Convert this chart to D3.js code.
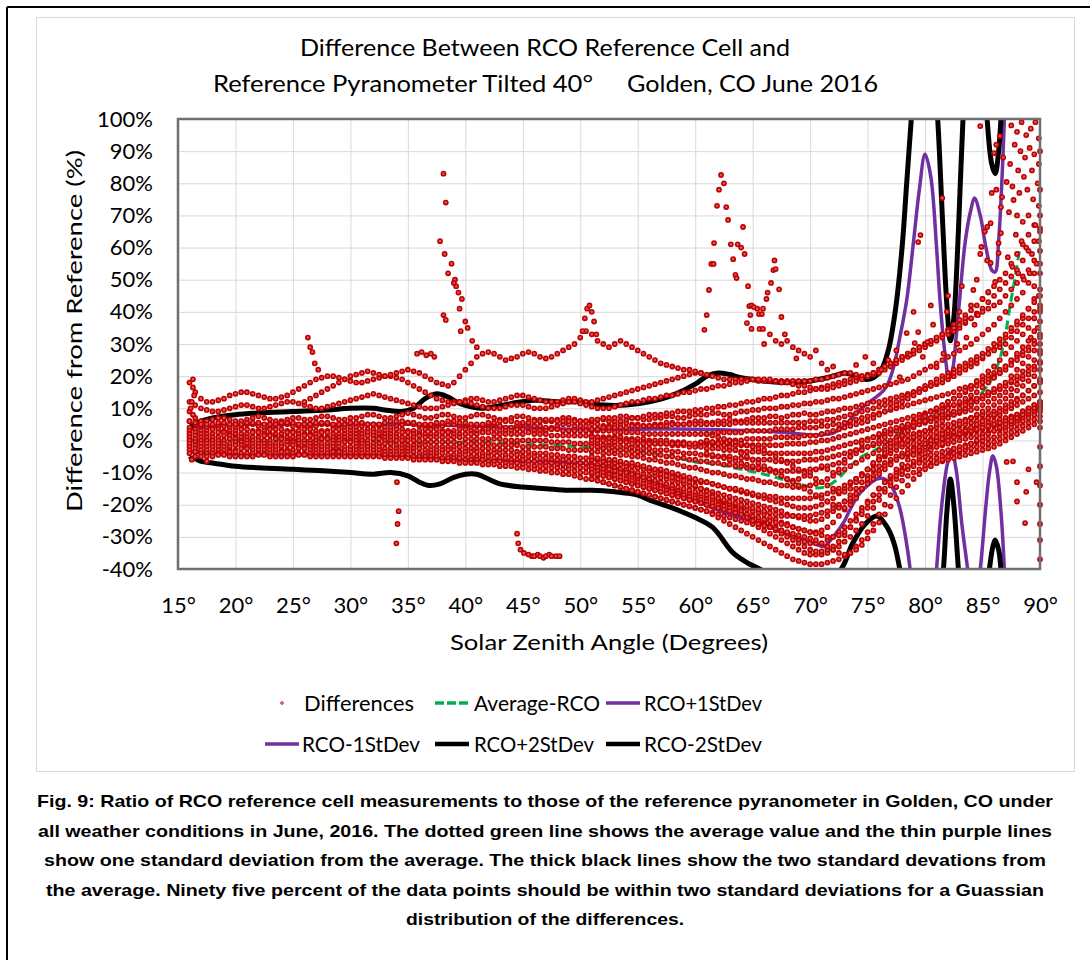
<!DOCTYPE html>
<html lang="en">
<head>
<meta charset="UTF-8">
<title>RCO Reference Cell vs Reference Pyranometer</title>
<style>
  html, body { margin: 0; padding: 0; background: #fff; }
  svg { display: block; font-family: Lato, "Open Sans", sans-serif; }
  .grid line { stroke: #d9d9d9; stroke-width: 1; }
  .grid .domain { display: none; }
  .ticks .domain { display: none; }
  .ticks text { fill: #000; font-size: 22px; font-family: Lato, sans-serif; }
</style>
</head>
<body>
<svg id="chart" width="1090" height="960"></svg>
<script src="https://cdn.jsdelivr.net/npm/d3@7/dist/d3.min.js"></script>
<script>
// ---- axis ticks ----
var xTicks = [15, 20, 25, 30, 35, 40, 45, 50, 55, 60, 65, 70, 75, 80, 85, 90];
var yTicks = [-40, -30, -20, -10, 0, 10, 20, 30, 40, 50, 60, 70, 80, 90, 100];

// ---- zenith grid of the daily traces (deg), 15 rows of 10 ----
var zenith = [
  16,16.5,17,17.5,18,18.5,19,19.5,20,20.5,
  21,21.5,22,22.5,23,23.5,24,24.5,25,25.5,
  26,26.5,27,27.5,28,28.5,29,29.5,30,30.5,
  31,31.5,32,32.5,33,33.5,34,34.5,35,35.5,
  36,36.5,37,37.5,38,38.5,39,39.5,40,40.5,
  41,41.5,42,42.5,43,43.5,44,44.5,45,45.5,
  46,46.5,47,47.5,48,48.5,49,49.5,50,50.5,
  51,51.5,52,52.5,53,53.5,54,54.5,55,55.5,
  56,56.5,57,57.5,58,58.5,59,59.5,60,60.5,
  61,61.5,62,62.5,63,63.5,64,64.5,65,65.5,
  66,66.5,67,67.5,68,68.5,69,69.5,70,70.5,
  71,71.5,72,72.5,73,73.5,74,74.5,75,75.5,
  76,76.5,77,77.5,78,78.5,79,79.5,80,80.5,
  81,81.5,82,82.5,83,83.5,84,84.5,85,85.5,
  86,86.5,87,87.5,88,88.5,89,89.5,90
];

// ---- daily difference traces (%) read along the zenith grid ----
var traceC4 = [
  6,5,4.5,4,4,4.5,4.5,4,4,4.5,
  5,5,4.5,4,4,4.5,5,5,4.5,4.5,
  4,4,4.5,5,5,4.5,4.5,4,4,4,
  4.5,5,5,4.5,4,4,4.5,5,5.5,5,
  4.5,4.5,4,4,4.5,5,5,4.5,4,4,
  4.5,4.5,5,5,4.5,4,4,4.5,5,5,
  4.5,4.5,4,4,4.5,5,5,4.5,4.5,4.5,
  5,5,4.5,4.5,5,5,5.5,5,5,4.5,
  4.5,5,5,5.5,5.5,5,5,5.5,6,6,
  5.5,5.5,6,6,6.5,6,6,6.5,7,7,
  7,7.5,7.5,7,7.5,8,8,8.5,8,8,
  8.5,9,9,9.5,10,10,10.5,11,11.5,12,
  12,12.5,13,13.5,14,14.5,15,15.5,16,17,
  17.5,18,19,20,21,22,23,24,25.5,27,
  28.5,30,32,34,36,38,41,44,47
];
var traceC3 = [
  4,3.5,3,3,3.5,3.5,3,3,3,3.5,
  3.5,3,3,3,3.5,3.5,3.5,3,3,3,
  3.5,3.5,3,3,3,3.5,3.5,3,3,3,
  3,3.5,3.5,3,3,3,3.5,3.5,3,3,
  3,3.5,3.5,3.5,3,3,3,3.5,3.5,3,
  3,3,3.5,3.5,3,3,3,3.5,3.5,3,
  3,3,3,3.5,3.5,3,3,3,3,3,
  3,3,3,3,2.5,2.5,2.5,2.5,2.5,2,
  2,2,2,2,2,2,2,2,2,2,
  2,2,2.5,2.5,2.5,2.5,2.5,3,3,3,
  3,3,3.5,3.5,3.5,3.5,4,4,4,4,
  4.5,4.5,5,5,5.5,6,6.5,7,7.5,8,
  8.5,9,9.5,10,10.5,11,11.5,12,12.5,13,
  13.5,14,14.5,15,16,16.5,17,18,19,20,
  21,22,23,24.5,26,27.5,29,31,33
];
var traceC2 = [
  3,2.5,2,2,2,2.5,2.5,2,2,2,
  2,2.5,2.5,2,2,2,2,2.5,2.5,2,
  2,2,2,2.5,2.5,2,2,2,2,2,
  2,2.5,2.5,2,2,2,2,2.5,2.5,2,
  2,2,2,2,2.5,2.5,2,2,2,2,
  2,2.5,2.5,2,2,2,2,2,2,2.5,
  2,2,2,1.5,1.5,1.5,1.5,1.5,1.5,1.5,
  1.5,1,1,1,1,1,0.5,0.5,0.5,0.5,
  0,0,0,0,-0.5,-0.5,-0.5,-1,-1,-1,
  -1,-1,-1,-1.5,-1.5,-1.5,-1.5,-1.5,-1.5,-1.5,
  -1.5,-1.5,-1.5,-1.5,-1,-1,-1,-1,-0.5,-0.5,
  0,0,0.5,1,1.5,2,2.5,3,3.5,4,
  4.5,5,5.5,6,6.5,7,7.5,8,8.5,9,
  9.5,10,10.5,11,11.5,12,12.5,13,13.5,14.5,
  15,16,17,18,19,20,21.5,23,24.5
];
var traceC1 = [
  2,1.5,1,1,1,1,1.5,1.5,1,1,
  1,1,1,1.5,1.5,1,1,1,1,1,
  1.5,1.5,1,1,1,1,1,1,1,1,
  1,1.5,1.5,1,1,1,1,1,1,1,
  1.5,1,1,1,1,1,1,1,0.5,0.5,
  0.5,0.5,0.5,0.5,0.5,0,0,0,0,0,
  0,0,0,-0.5,-0.5,-0.5,-0.5,-1,-1,-1,
  -1,-1,-1.5,-1.5,-1.5,-2,-2,-2,-2.5,-2.5,
  -2.5,-3,-3,-3,-3.5,-3.5,-4,-4,-4,-4.5,
  -4.5,-5,-5,-5,-5,-5.5,-5.5,-5.5,-6,-6,
  -6,-6,-6.5,-6.5,-6.5,-6.5,-6.5,-6,-6,-6,
  -5.5,-5.5,-5,-4.5,-4,-3.5,-3,-2.5,-2,-1.5,
  -1,-0.5,0,0.5,1,1.5,2,2.5,3,3.5,
  4,4.5,5,5.5,6,6.5,7,7.5,8,8.5,
  9,10,11,12,13,14,15.5,17,18.5
];
var traceC0 = [
  1,0.5,0,0,0,0,0,0.5,0.5,0,
  0,0,0,0,0,0.5,0.5,0,0,0,
  0,0,0,0.5,0.5,0,0,0,0,0,
  0,0,0.5,0.5,0,0,0,0,0,0,
  0,-0.5,-0.5,-0.5,-0.5,-0.5,-0.5,-1,-1,-1,
  -1,-1,-1,-1.5,-1.5,-1.5,-1.5,-1.5,-2,-2,
  -2,-2,-2,-2.5,-2.5,-2.5,-3,-3,-3,-3,
  -3.5,-3.5,-4,-4,-4,-4.5,-4.5,-5,-5,-5.5,
  -6,-6,-6.5,-7,-7,-7.5,-8,-8.5,-8.5,-9,
  -9.5,-10,-10,-10.5,-11,-11,-11.5,-12,-12,-12.5,
  -13,-13,-13.5,-14,-14,-14.5,-14.5,-14.5,-14,-13.5,
  -13,-12,-11,-10,-9,-8,-7,-6,-5,-4,
  -3,-2,-1.5,-1,-0.5,0,0.5,1,1.5,2,
  2.5,3,3.5,4,4.5,5,5.5,6,6.5,7,
  7.5,8,9,10,11,12,13,14,15
];
var traceM1 = [
  0,-0.5,-1,-1,-1,-1,-1,-1,-0.5,-0.5,
  -1,-1,-1,-1,-1,-1,-1,-0.5,-0.5,-1,
  -1,-1,-1,-1,-1,-1,-1,-0.5,-0.5,-1,
  -1,-1,-1,-1,-1,-1,-1.5,-1.5,-1.5,-1.5,
  -1.5,-1.5,-2,-2,-2,-2,-2,-2,-2.5,-2.5,
  -2.5,-2.5,-2.5,-3,-3,-3,-3,-3.5,-3.5,-3.5,
  -4,-4,-4,-4.5,-4.5,-5,-5,-5,-5.5,-5.5,
  -6,-6,-6.5,-6.5,-7,-7,-7.5,-8,-8,-8.5,
  -9,-9,-9.5,-10,-10.5,-11,-11.5,-12,-12.5,-13,
  -13,-13.5,-14,-14.5,-15,-15.5,-16,-16.5,-17,-17.5,
  -18,-18.5,-19,-19.5,-20,-20.5,-21,-21,-21,-20.5,
  -20,-19,-18,-16.5,-15,-13.5,-12,-10.5,-9,-7.5,
  -6,-5,-4,-3,-2,-1.5,-1,-0.5,0,0.5,
  1,1.5,2,2.5,3,3.5,4,4.5,5,5.5,
  6,6.5,7,7.5,8,9,10,11,12
];
var traceM2 = [
  -1,-1.5,-2,-2,-2,-2,-2,-2,-1.5,-1.5,
  -2,-2,-2,-2,-2,-2,-2,-1.5,-1.5,-2,
  -2,-2,-2,-2,-2,-2,-2,-2,-2,-2,
  -2,-2,-2,-2,-2.5,-2.5,-2.5,-2.5,-2.5,-2.5,
  -2.5,-3,-3,-3,-3,-3,-3,-3.5,-3.5,-3.5,
  -3.5,-4,-4,-4,-4,-4.5,-4.5,-4.5,-5,-5,
  -5,-5.5,-5.5,-6,-6,-6,-6.5,-6.5,-7,-7,
  -7.5,-7.5,-8,-8,-8.5,-9,-9,-9.5,-10,-10.5,
  -11,-11,-11.5,-12,-12.5,-13,-13.5,-14,-14.5,-15,
  -15.5,-16,-16.5,-17,-17.5,-18,-18.5,-19,-19.5,-20,
  -20.5,-21,-21.5,-22,-23,-23.5,-24,-24.5,-25,-25,
  -24.5,-23.5,-22,-20.5,-19,-17,-15,-13,-11,-9.5,
  -8,-7,-6,-5,-4,-3,-2.5,-2,-1.5,-1,
  -0.5,0,0.5,1,1.5,2,2.5,3,3.5,4,
  4.5,5,5.5,6,7,8,9,10,11
];
var traceM3 = [
  -2,-2.5,-3,-3,-3,-3,-3,-3,-3,-2.5,
  -2.5,-3,-3,-3,-3,-3,-3,-3,-3,-2.5,
  -2.5,-3,-3,-3,-3,-3,-3,-3,-3,-3,
  -3,-3,-3,-3,-3.5,-3.5,-3.5,-3.5,-3.5,-3.5,
  -4,-4,-4,-4,-4,-4.5,-4.5,-4.5,-4.5,-5,
  -5,-5,-5,-5.5,-5.5,-5.5,-6,-6,-6,-6.5,
  -6.5,-7,-7,-7,-7.5,-7.5,-8,-8,-8.5,-8.5,
  -9,-9,-9.5,-10,-10,-10.5,-11,-11.5,-12,-12.5,
  -13,-13.5,-14,-14.5,-15,-15.5,-16,-16.5,-17,-17.5,
  -18,-18.5,-19,-19.5,-20,-20.5,-21,-21.5,-22,-22.5,
  -23,-24,-24.5,-25.5,-26,-27,-27.5,-28,-28.5,-28.5,
  -28,-27,-25.5,-23.5,-21.5,-19,-17,-15,-13,-11,
  -9.5,-8,-7,-6,-5,-4.5,-4,-3.5,-3,-2.5,
  -2,-1.5,-1,-0.5,0,0.5,1,1.5,2,2.5,
  3,3.5,4,5,6,7,8,9,10
];
var traceM4 = [
  -3,-3.5,-4,-4,-4,-4,-4,-3.5,-3.5,-4,
  -4,-4,-4,-4,-4,-4,-3.5,-3.5,-4,-4,
  -4,-4,-4,-4,-4,-3.5,-3.5,-4,-4,-4,
  -4,-4,-4,-4,-4.5,-4.5,-4.5,-4.5,-4.5,-5,
  -5,-5,-5,-5,-5.5,-5.5,-5.5,-5.5,-6,-6,
  -6,-6,-6.5,-6.5,-6.5,-7,-7,-7,-7.5,-7.5,
  -8,-8,-8,-8.5,-8.5,-9,-9,-9.5,-10,-10,
  -10.5,-11,-11,-11.5,-12,-12.5,-13,-13.5,-14,-14.5,
  -15,-15.5,-16,-16.5,-17,-17.5,-18,-18.5,-19,-19.5,
  -20,-20.5,-21,-21.5,-22,-22.5,-23,-23.5,-24,-25,
  -25.5,-26.5,-27,-28,-29,-30,-31,-31.5,-32,-32,
  -32,-31,-30,-28.5,-27,-25,-23,-21,-19,-17,
  -15,-13,-11.5,-10,-9,-8,-7,-6,-5,-4.5,
  -4,-3.5,-3,-2.5,-2,-1.5,-1,-0.5,0,0.5,
  1,2,3,4,5,6,7,8,9
];
var traceM5 = [
  -4,-5,-5,-5,-5,-4.5,-4.5,-5,-5,-5,
  -5,-5,-4.5,-4.5,-5,-5,-5,-5,-5,-4.5,
  -4.5,-5,-5,-5,-5,-5,-5,-5,-5,-5,
  -5,-5,-5,-5,-5.5,-5.5,-5.5,-5.5,-5.5,-6,
  -6,-6,-6,-6,-6.5,-6.5,-6.5,-7,-7,-7,
  -7,-7.5,-7.5,-7.5,-8,-8,-8,-8.5,-8.5,-9,
  -9,-9.5,-9.5,-10,-10,-10.5,-10.5,-11,-11.5,-12,
  -12,-12.5,-13,-13.5,-14,-14.5,-15,-15.5,-16,-16.5,
  -17,-17.5,-18,-18.5,-19,-19.5,-20,-20.5,-21,-21.5,
  -22,-22.5,-23,-23.5,-24,-24.5,-25,-25.5,-26,-27,
  -28,-29,-30,-31,-32,-33,-34,-35,-35.5,-35.5,
  -35.5,-35,-34,-33,-31.5,-30,-28,-26,-23.5,-21,
  -18.5,-16,-14,-12,-10.5,-9,-8,-7,-6.5,-6,
  -5.5,-5,-4.5,-4,-3.5,-3,-2.5,-2,-1.5,-1,
  -0.5,0.5,1.5,2.5,3.5,4.5,5.5,6.5,7.5
];
// traces that only show from 51 deg onward
var traceM6 = [
  -12,-12.5,-13,-13.5,-14,-14.5,-15,-15.5,-16,-16.5,
  -17,-17.5,-18,-18.5,-19,-19.5,-20,-20.5,-21,-21.5,
  -22,-23,-24,-25,-26,-27,-28,-29,-30,-31,
  -32,-33,-34,-35,-36,-37,-37.5,-38,-38.5,-38.5,
  -38.5,-38,-37.5,-37,-36,-35,-33,-31,-28.5,-26,
  -23,-20,-17,-14.5,-12.5,-11,-10,-9,-8,-7.5,
  -7,-6.5,-6,-5.5,-5,-4.5,-4,-3.5,-3,-2.5,
  -2,-1,0,1,2,3,4,5,6
];
var traceM7 = [
  -6,-6,-6.5,-7,-7,-7.5,-8,-8,-8.5,-9,
  -9.5,-10,-10.5,-11,-11.5,-12,-12.5,-13,-14,-15,
  -16,-17,-18,-19,-20,-21,-22,-23,-24,-25,
  -26,-27,-28,-29,-30,-31,-32,-33,-34,-34.5,
  -34.5,-34,-33,-31.5,-29.5,-27,-24.5,-22,-19.5,-17,
  -15,-13,-11,-9,-7.5,-6,-4.5,-3,-2,-1,
  0,0.5,1,1.5,2,2.5,3,3.5,4,4.5,
  5,5.5,6,7,8,9,10,11,12
];
var traceF1 = [
  1,1,0.5,0.5,0.5,0,0,0,-0.5,-0.5,
  -0.5,-1,-1,-1,-1.5,-1.5,-1.5,-2,-2,-2,
  -2.5,-2.5,-2.5,-3,-3,-3,-3.5,-3.5,-3.5,-3.5,
  -4,-4,-4,-4,-4,-4,-4,-4,-4,-3.5,
  -3.5,-3,-2.5,-2,-1.5,-1,-0.5,0,0.5,1,
  1.5,2,2.5,3,3.5,4,4.5,5,5.5,6,
  6.5,7,7.5,8,8.5,9,9.5,10,11,12,
  13,14,15,16,17.5,19,20.5,22,24
];
var traceF2 = [
  -2,-2,-2.5,-2.5,-3,-3,-3,-3.5,-3.5,-4,
  -4,-4.5,-4.5,-5,-5,-5.5,-5.5,-6,-6,-6.5,
  -6.5,-7,-7,-7.5,-7.5,-8,-8,-8.5,-8.5,-9,
  -9,-9,-9.5,-9.5,-9.5,-9.5,-9.5,-9.5,-9,-9,
  -8.5,-8,-7.5,-7,-6,-5,-4,-3,-2,-1,
  0,1,2,3,4,5,6,7,8,9,
  10,11,12,13,14,15,16,17,18,19,
  20,21,22,23.5,25,26.5,28,30,32
];
var traceF3 = [
  -5,-5.5,-5.5,-6,-6,-6.5,-7,-7,-7.5,-8,
  -8.5,-9,-9,-9.5,-10,-10.5,-11,-11.5,-12,-12.5,
  -13,-13.5,-14,-14.5,-15,-15,-15.5,-16,-16.5,-17,
  -17,-17.5,-17.5,-18,-18,-18,-18,-18,-18,-17.5,
  -17,-16.5,-16,-15,-14,-13,-12,-10.5,-9,-7.5,
  -6,-4.5,-3,-2,-1,0,1,2,3,4,
  5,6,7,8,9,10,11,12,13,14,
  15,16,17,18.5,20,21.5,23,25,27
];
var traceF4 = [
  -8,-8.5,-9,-9,-9.5,-10,-10,-10.5,-11,-11.5,
  -12,-12.5,-13,-13.5,-14,-14.5,-15,-15.5,-16,-16.5,
  -17,-17.5,-18,-18.5,-19,-19.5,-20,-20.5,-21,-21.5,
  -22,-22.5,-23,-23.5,-23.5,-23.5,-23.5,-23.5,-23.5,-23,
  -22.5,-22,-21,-20,-19,-18,-16.5,-15,-13.5,-12,
  -10.5,-9,-7.5,-6,-5,-4,-3,-2,-1,0,
  1,2,3,4,5,6,7,8,9,10,
  11,12,13,14,15.5,17,18.5,20,22
];
var traceF5 = [
  -9,-9.5,-10,-10.5,-11,-11.5,-12,-12.5,-13,-13.5,
  -14,-14.5,-15,-15.5,-16,-16.5,-17,-17.5,-18,-18.5,
  -19,-19.5,-20,-20.5,-21,-21.5,-22,-23,-23.5,-24,
  -24.5,-25,-25.5,-26,-26.5,-27,-27.5,-28,-28.5,-29,
  -29.5,-30,-30,-29.5,-28.5,-27,-25,-23,-21,-19,
  -17,-15,-13,-11,-9.5,-8,-6.5,-5,-4,-3,
  -2,-1,0,1,2,3,4,5,6,7,
  8,9,10,11,12.5,14,15.5,17,19
];
var traceF6 = [
  -10,-10.5,-11,-11.5,-12,-12.5,-13,-13.5,-14,-14.5,
  -15,-15.5,-16,-16.5,-17,-17.5,-18,-18.5,-19,-19.5,
  -20,-20.5,-21,-21.5,-22,-22.5,-23,-24,-25,-26,
  -26.5,-27,-27.5,-28,-28.5,-29,-29.5,-30,-30.5,-31,
  -32,-33,-34,-35,-35.5,-35,-34,-32.5,-30.5,-28,
  -25.5,-23,-20.5,-18,-16,-14,-12,-10.5,-9,-8,
  -7,-6,-5,-4,-3,-2,-1,0,1,2,
  3,4,5,6,7,8,9,10,11
];
var traceG1 = [
  3.5,3.5,4,4,4,4,4,4.5,4.5,4.5,
  4.5,4.5,4.5,4.5,5,5,5,5,5,5,
  5,5,5,5,5,5.5,5.5,5.5,5.5,5.5,
  5.5,5.5,5.5,5.5,5.5,5.5,5.5,5.5,6,6,
  6,6.5,6.5,7,7.5,8,8.5,9,9.5,10,
  10.5,11,11.5,12,13,14,15,16,17,18,
  19,20,21,22,23,24,25,26,27,28.5,
  30,31.5,33,35,37,39,41,43,45
];
var traceG2 = [
  0,0,0,-0.5,-0.5,-0.5,-0.5,-1,-1,-1,
  -1,-1,-1,-1,-1,-1,-1,-1,-1,-0.5,
  -0.5,-0.5,-0.5,0,0,0,0,0.5,0.5,0.5,
  0.5,0.5,1,1,1,1,1,1.5,1.5,1.5,
  2,2.5,3,3.5,4,4.5,5,5.5,6,7,
  8,9,10,11,12,13,14,15,16,17,
  18,19,20,21,22,23,24,25,26,27,
  28,29,30,32,34,36,38,40,42
];
// traces from 61 deg onward (the tangled middle of the fan)
var traceX1 = [
  -4,-4.5,-5,-5.5,-6,-6.5,-7,-7.5,-8,-8.5,
  -9,-9.5,-10,-11,-12,-12.5,-12,-11,-10,-9,
  -8,-9,-10,-9,-7,-5,-3,-1,0,1,
  2,3,3.5,4,4.5,5,5.5,6,6.5,7,
  7.5,8,8.5,9,10,11,12,13,14,15,
  16,17,18,20,22,24,26,28,30
];
var traceX2 = [
  2,1.5,1,0.5,0,-0.5,-1,-1.5,-2,-2.5,
  -3,-4,-5,-6,-7,-8,-9,-10,-11,-12,
  -13,-14,-15,-16,-16,-15,-13,-11,-9,-7,
  -5,-3,-1,1,2,3,4,5,6,7,
  8,9,10,11,12,13,14,15,16.5,18,
  19.5,21,23,25,27,29,31,34,37
];
var traceX3 = [
  0,-0.5,-1,-1.5,-2,-3,-4,-5,-6,-7,
  -8,-9,-10,-11,-12,-13,-14,-15,-16,-17,
  -18,-19,-20,-21,-21,-20,-18,-15,-12,-9,
  -6,-4,-2,0,1.5,3,4.5,6,7.5,9,
  10,11,12,13,14,15.5,17,18.5,20,21.5,
  23,25,27,29,31,33,35,38,41
];
// upper (partly cloudy) traces
var traceU1 = [
  9,7,6,6,6.5,7,7,6.5,6,6,
  6.5,7,7.5,7,6.5,6,6,6.5,7,7,
  6.5,6.5,7,7.5,7.5,7,6.5,6.5,7,7,
  7.5,8,8,7.5,7,7,7.5,8,8.5,8,
  7.5,7,7,7.5,8,8,7.5,7,7,7.5,
  8,8,7.5,7,6.5,6.5,7,7.5,7.5,7,
  6.5,6.5,6,6,6.5,7,7,6.5,6,6,
  6,6.5,6.5,6,6,6,6.5,7,7,6.5,
  6.5,7,7,7.5,7.5,7,7,7.5,8,8,
  8,8.5,8.5,8,8,8.5,9,9,9.5,9.5,
  10,10,10,10.5,10.5,11,11,11.5,11.5,12,
  12,12.5,13,13,13.5,14,14.5,15,15.5,16,
  16.5,17,17.5,18,18.5,19,20,21,22,23,
  24,25,26,27,28,29,30,31.5,33,34.5,
  36,38,40,42,44,46,49,52,55
];
var traceU2 = [
  6,5.5,5,5,5,5.5,5.5,5,5,5,
  5.5,5.5,5.5,5,5,5,5.5,5.5,5.5,5,
  5,5,5.5,5.5,5.5,5,5,5,5.5,5.5,
  5.5,5,5,5,5.5,6,6,6,5.5,5.5,
  5,5,5,5.5,5.5,6,6,5.5,5.5,5,
  5,5,5.5,5.5,6,6,6,5.5,5.5,5.5,
  6,6,6.5,6.5,6,6,6,6,6,6,
  6.5,6.5,7,7,7,7.5,7.5,7,7,7.5,
  8,8,8,8.5,8.5,9,9,9,9.5,9.5,
  10,10,10.5,10.5,11,11,11.5,12,12,12.5,
  13,13,13.5,14,14,14.5,15,15,15.5,16,
  16.5,17,17.5,18,18.5,19,19.5,20,20.5,21,
  22,23,24,25,26,27,28,29,30,31,
  32,33,34.5,36,37.5,39,40.5,42,44,46,
  48,50,52,55,58,61,64,67,70
];
var traceW1 = [
  18,15,13,12,12,12.5,13,14,14.5,15,
  15,14.5,14,13.5,13,13,13.5,14,15,16,
  17,18,19,19.5,20,20,19.5,19,18.5,18,
  18,18.5,19,19.5,20,20,19.5,19,18,17,
  16,15,14,13,12.5,12,12,12,12.5,13,
  13,12.5,12,12,12.5,13,13.5,14,14,13.5,
  13,12.5,12,12,12,12.5,13,13,12.5,12,
  12,12.5,13,13.5,14,14.5,15,15.5,16,16.5,
  17,17.5,18,18.5,19,19.5,20,20.5,21,21,
  20.5,20,19.5,19,19,19,19,19,19,18.5,
  18.5,18.5,18.5,18.5,18.5,18.5,18.5,18.5,18.5,19,
  19,19.5,20,20.5,21,21,20.5,20,20,20.5,
  21,22,23,24,25,26,27,28,29,30,
  31,32,33,34,35,36.5,38,39.5,41,43,
  45,47,49,51,53,56,59,62,65
];
var traceW2 = [
  12,11,10,9.5,9,9,9.5,10,10.5,11,
  11,10.5,10,10,10.5,11,11.5,12,12,11.5,
  11,10.5,10,10,10.5,11,11.5,12,12.5,13,
  13.5,14,14.5,14,13.5,13,12.5,12,11.5,11,
  10.5,10,10,10,10.5,11,11.5,12,12,11.5,
  11,10.5,10,10,10,10.5,11,11,11,10.5,
  10,10,10,10.5,11,11.5,12,12,11.5,11,
  10.5,10,10,10,10.5,11,11.5,12,12,12.5,
  13,13,13.5,14,14,14.5,15,15,15.5,16,
  16,16.5,17,17,17.5,18,18,18.5,19,19,
  19,19,18.5,18,18,17.5,17,17,16.5,16,
  16,16,16.5,17,17.5,18,18.5,19,20,21,
  22,23,24,25,26,27,28,29,30,31,
  32,33,34,35,36,37,38,39,40,41,
  42,43,45,47,49,51,53,56,59
];
// high noisy trace, 26 to 60.5 deg
var traceW3 = [
  12,13,14,15,16,17,18,19,20,20.5,
  21,21.5,21,20.5,20,20.5,21,21.5,22,21.5,
  21,20,19,18,17.5,17,18,20,22,24,
  26,27,27.5,27,26,25,25.5,26,27,27.5,
  27,26,25.5,26,27,28,29,30,32,34,
  33,31,30,29,30,31,30,29,28,27,
  26,25,24,23.5,23,22.5,22,22,21.5,21
];

var dayTraces = [
  {from: 16, y: traceC4}, {from: 16, y: traceC3}, {from: 16, y: traceC2},
  {from: 16, y: traceC1}, {from: 16, y: traceC0}, {from: 16, y: traceM1},
  {from: 16, y: traceM2}, {from: 16, y: traceM3}, {from: 16, y: traceM4},
  {from: 16, y: traceM5}, {from: 51, y: traceM6}, {from: 51, y: traceM7},
  {from: 51, y: traceF1}, {from: 51, y: traceF2}, {from: 51, y: traceF3},
  {from: 51, y: traceF4}, {from: 51, y: traceF5}, {from: 51, y: traceF6},
  {from: 51, y: traceG1}, {from: 51, y: traceG2},
  {from: 61, y: traceX1}, {from: 61, y: traceX2}, {from: 61, y: traceX3},
  {from: 16, y: traceU1}, {from: 16, y: traceU2}, {from: 16, y: traceW1},
  {from: 16, y: traceW2}, {from: 26, y: traceW3}
];

// ---- isolated points [zenith, %] ----
var strayPoints = [
  [16.3,19],[16.3,16.5],[16.4,14],[16.2,12],[16.1,10],[16.3,8],[17.5,-6.5],[16.2,-6],
  [26.3,32],[26.5,29],[26.7,27.5],[26.9,24],[27.2,22],
  [34.05,-13],[34.2,-22],[34.1,-26],[34.0,-32],
  [35.8,27],[36.2,27.5],[36.6,26.5],[37,27],[37.3,26],
  [38.1,83],[38.3,74],[37.8,62],[38.2,58],[38.8,55],[39.1,50],[39.2,48],[39.4,46],[39.7,44],
  [38.1,39],[38.3,37.5],[39.6,34],[40,37],[40.2,35],[40.6,31],[41,29],[38.5,52],[39,49],[39.5,41],
  [44.5,-29],[44.6,-32],[44.8,-34],[45.1,-35],[45.5,-35.5],[45.8,-36],[46,-36],[46.3,-35.5],
  [46.5,-36],[46.8,-36.5],[47,-36],[47.3,-35.5],[47.5,-36],[47.9,-36],[48.2,-36],
  [50.2,34],[50.4,38],[50.6,41],[50.8,42],[51,40],[51.2,37],[51.4,33],
  [62.25,82.6],[62.5,80],[62.07,78],[61.9,73],[62.7,72.6],[62.86,68.6],[64.16,66.4],[61.64,61.4],
  [63.1,61],[63.7,61],[64.0,60],[64.3,58],[63.3,56.4],[61.4,54.9],[61.6,54.9],[63.5,51.5],
  [63.6,50.5],[64.6,48],[61.2,46.8],[66.6,49],[66.9,56],[66.8,53],[67.0,53.3],[66.3,46],
  [67.3,47],[66.2,44],[64.7,41.8],[64.9,42],[65.1,41.5],[65.4,41],[65.9,41],[65.55,39.3],
  [65.8,39.3],[64.8,39],[61.0,39],[67.5,38.4],[64.5,36.5],[64.9,34.7],[65.6,34.7],[65.9,34.7],
  [60.8,34.4],[66.5,33],[67,31],[67.5,30],[68,31],[68.5,29],[69,28],[69.5,27],[70,26],
  [70.5,28],[66,30],[67.8,33],[68.8,25.5],[71,24],[71.5,22],[72,23],
  [84.8,97.8],[86.5,94.7],[86.2,92],[86,89.4],[86.8,88],[87.1,80.4],[86.2,78],[85.8,77],
  [86.7,75.7],[87.7,74.8],[86.6,72.6],[85.7,67.6],[85.4,66.4],[85.2,65],[86.6,64.5],[86.4,61.4],
  [84.9,60.2],[84.8,58],[86.4,58.3],[85.7,55.2],[85.4,56],[84.5,50],[84.2,46.8],[85.5,46.2],
  [86.1,49.3],[81.5,75.4],[79.6,63.9],[79.4,61.7],
  [87.5,98],[88,96],[88.4,99],[88.8,95],[89.2,97],[89.6,99],[89.9,94],[87.8,92],[88.3,90],
  [88.7,88],[89.1,91],[89.5,89],[89.9,86],[87.4,86],[88.1,84],[88.6,82],[89.3,84],[89.8,80],
  [87.6,79],[88.2,77],[88.9,78],[89.4,75],[89.9,73],[87.3,71],[88,70],[88.5,68],[89,70],
  [89.6,67],[89.9,62],[87.9,64],[88.4,62],[88.8,60],[89.3,58],[89.7,55],[87.2,57],[87.6,54],
  [88.1,52],[88.6,50],[89.1,52],[89.5,48],[89.9,45],[89.8,35],[89.5,38],[89.2,32],
  [90,90],[90,78],[90,66],[90,52],[90,40],[90,28],[90,18],[90,10],[90,4],[90,-2],[90,-8],
  [90,-14],[90,-20],[90,-26],[90,-31],[90,-37],
  [87.1,-6.7],[87.65,-6.5],[88,-13],[88.8,-16],[88,-19],[88.7,-25.7],[89,-9],[89.7,-13],
  [78.4,33.4],[79.4,33.7],[80.7,36],[79.1,30.3],[80.2,30.6],[81.6,27],[78.7,26.6],[79.8,26],
  [81,22.8],[77.8,19.7],[82.5,35],[83,40],[83.5,38],[84,42],[82.8,30],[83.6,32],[84.3,36],
  [81.9,40],[80.5,42],[79,40],[77.5,28],[76.8,25],[82,45],[83.2,48],[84.6,39],[85,44],
  [76.2,22],[75.5,24],[74.8,26],[74,23.5]
];

// ---- fitted lines [zenith, %] ----
var avgRCO = [
  [16,0],[20,0],[25,0],[30,0],[35,-0.5],[40,-0.5],[45,-1],[50,-2],[55,-3.5],[58,-5],[60,-6.7],
  [62,-7.5],[64,-9],[66,-10.5],[68,-12.5],[69.5,-14],[70.7,-14.8],[71.6,-14],[72.5,-11.7],
  [73.4,-8.3],[74.5,-5],[76,-2.4],[77.5,1.5],[79,5],[80,7],[81,8],[82,8.5],[83,9],[84,11],
  [85,15],[85.8,19],[86.6,26.6],[87,33],[87.4,42],[87.8,50],[88.2,59]
];
var plus1SD = [
  [16,3.5],[18,4.5],[20,5],[25,5],[30,5],[35,5],[40,4.5],[45,4],[50,3.5],[55,3.5],[60,3.5],
  [65,3],[68,2.5],[70,1.7],[71,1.8],[72,2.3],[73,4.5],[74,8.5],[75,11.5],[76.5,16],[77.2,22],
  [77.8,32],[78.4,43.6],[79,62],[79.5,78],[80,89],[80.5,82],[81,60],[81.3,43.6],[81.7,28],
  [82.1,19],[82.4,22],[82.7,32],[83,43.6],[83.5,62],[84,72],[84.3,75.4],[84.8,70],[85.3,60],
  [85.8,53],[86.1,52.4],[86.4,62],[86.7,82],[86.9,100],[87.3,140]
];
var minus1SD = [
  [16,-3.5],[18,-4],[20,-4.5],[25,-4.5],[30,-4.5],[35,-5],[40,-6],[45,-6.5],[50,-7],[53,-8.5],
  [56,-12.3],[59,-17],[61.9,-21.6],[64,-24],[65.6,-25.7],[68,-29],[70.3,-32],[71.2,-33],[72,-30],
  [73,-25],[73.4,-22],[74.2,-17],[75,-14],[75.8,-12],[76.5,-12],[77.2,-15],[77.8,-21],[78.3,-30],
  [78.7,-40],[79.3,-62],[80,-75],[80.5,-62],[81,-40],[81.4,-22],[81.9,-8],[82.3,-3],[82.7,-9],
  [83.2,-26],[83.7,-40],[84.2,-55],[84.8,-40],[85.3,-20],[85.6,-10],[85.9,-4.8],[86.2,-8],
  [86.6,-22],[86.9,-40],[87.4,-80]
];
var plus2SD = [
  [16,4],[17,6],[18,7],[20,8],[22,8.5],[25,9],[28,9.5],[30,10],[32,10],[33,9.5],[34.5,9],
  [35.5,10],[36.5,13],[37.5,14.5],[38.5,13.5],[39.5,11.5],[40.5,10.5],[41.5,10],[42.5,10.5],
  [44,11.5],[46,12.5],[48,12],[50,12],[52,11],[54,11],[56,12],[58,14],[60,17.5],[61,20],
  [62,21],[63,20.5],[64,19.5],[66,18.5],[68,18],[70,18.5],[72,20],[73,21],[74,20],[74.8,19],
  [75.5,19.5],[76.2,22],[76.8,28],[77.4,40],[78,60],[78.4,80],[78.8,100],[79.3,125],[80,140],
  [80.6,125],[81.1,100],[81.5,70],[81.9,42],[82.2,31],[82.5,38],[82.9,65],[83.3,100],[83.8,130],
  [84.5,145],[85.1,125],[85.4,100],[85.8,86],[86.1,83],[86.4,90],[86.6,100],[87,130],[87.5,170]
];
var minus2SD = [
  [16,-6],[16.3,-5.5],[17,-6.5],[18,-7],[20,-8],[22,-8.5],[25,-9],[28,-9.5],[30,-10],[32,-10.5],
  [33.5,-10],[35,-11],[36,-13],[36.8,-14],[37.8,-13.5],[39,-11.5],[40,-10.5],[41,-10.5],[42,-12],
  [43,-13.5],[45,-14.5],[47,-15],[49,-15.5],[51,-15.5],[53,-16],[55,-17],[56,-18.5],[58,-21],
  [60,-24],[61.5,-27],[63.3,-35],[64.5,-38],[65.6,-40],[67,-43],[69,-47],[71,-45],[72.7,-40],
  [73.7,-32],[74.8,-26],[75.8,-23.5],[76.7,-27],[77.3,-32],[77.8,-40],[78.8,-60],[80,-80],
  [81,-60],[81.6,-40],[81.9,-22],[82.2,-12],[82.5,-20],[82.9,-40],[83.5,-65],[84.3,-75],
  [85,-60],[85.6,-40],[85.9,-33],[86.1,-31],[86.4,-34],[86.6,-40],[87,-60],[87.5,-90]
];

var legendRows = [
  [{name: "Differences", kind: "dot", x: 282, tx: 304, w: 110},
   {name: "Average-RCO", kind: "avg", x: 435, tx: 474, w: 126},
   {name: "RCO+1StDev", kind: "sd1", x: 606, tx: 644, w: 118}],
  [{name: "RCO-1StDev", kind: "sd1", x: 265, tx: 302, w: 118},
   {name: "RCO+2StDev", kind: "sd2", x: 435, tx: 474, w: 120},
   {name: "RCO-2StDev", kind: "sd2", x: 606, tx: 644, w: 118}]
];

var captionLines = [
  "Fig. 9: Ratio of RCO reference cell measurements to those of the reference pyranometer in Golden, CO under",
  "all weather conditions in June, 2016. The dotted green line shows the average value and the thin purple lines",
  "show one standard deviation from the average. The thick black lines show the two standard devations from",
  "the average. Ninety five percent of the data points should be within two standard deviations for a Guassian",
  "distribution of the differences."
];

drawChart();

function drawChart() {
    var svg = d3.select("#chart");
    var left = 178, right = 1040, top = 119, bottom = 569;

    var x = d3.scaleLinear().domain([15, 90]).range([left, right]);
    var y = d3.scaleLinear().domain([-40, 100]).range([bottom, top]);

    /* figure frame and chart area */
    svg.append("rect").attr("x", 0).attr("y", 0).attr("width", 1090).attr("height", 960).attr("fill", "#fff");
    svg.append("line").attr("x1", 7).attr("y1", 7).attr("x2", 1090).attr("y2", 7)
        .attr("stroke", "#000").attr("stroke-width", 2);
    svg.append("line").attr("x1", 7).attr("y1", 7).attr("x2", 7).attr("y2", 960)
        .attr("stroke", "#000").attr("stroke-width", 2);
    svg.append("rect").attr("x", 36.5).attr("y", 17.5).attr("width", 1038).attr("height", 754)
        .attr("fill", "#fff").attr("stroke", "#d9d9d9").attr("stroke-width", 1);

    /* gridlines */
    svg.append("g").attr("class", "grid")
        .attr("transform", "translate(0," + bottom + ")")
        .call(d3.axisBottom(x).tickValues(xTicks).tickSize(-(bottom - top)).tickFormat(""));
    svg.append("g").attr("class", "grid")
        .attr("transform", "translate(" + left + ",0)")
        .call(d3.axisLeft(y).tickValues(yTicks).tickSize(-(right - left)).tickFormat(""));

    /* tick labels */
    svg.append("g").attr("class", "ticks")
        .attr("transform", "translate(" + left + ",0)")
        .call(d3.axisLeft(y).tickValues(yTicks).tickSize(0).tickPadding(25)
            .tickFormat(function (d) { return d + "%"; }));
    svg.append("g").attr("class", "ticks")
        .attr("transform", "translate(0," + bottom + ")")
        .call(d3.axisBottom(x).tickValues(xTicks).tickSize(0).tickPadding(28)
            .tickFormat(function (d) { return d + "\u00b0"; }));

    /* fitted lines, clipped to the plot */
    svg.append("clipPath").attr("id", "plotClip")
        .append("rect").attr("x", left).attr("y", top)
        .attr("width", right - left).attr("height", bottom - top);

    var line = d3.line()
        .x(function (d) { return x(d[0]); })
        .y(function (d) { return y(d[1]); })
        .curve(d3.curveCatmullRom.alpha(0.5));

    var lines = svg.append("g").attr("clip-path", "url(#plotClip)");
    var lineSpecs = [
        {data: avgRCO, color: "#00b050", width: 3, dash: "9,5"},
        {data: plus1SD, color: "#7030a0", width: 3.5},
        {data: minus1SD, color: "#7030a0", width: 3.5},
        {data: plus2SD, color: "#000", width: 5},
        {data: minus2SD, color: "#000", width: 5}
    ];
    lineSpecs.forEach(function (s) {
        lines.append("path")
            .attr("d", line(s.data))
            .attr("fill", "none")
            .attr("stroke", s.color)
            .attr("stroke-width", s.width)
            .attr("stroke-dasharray", s.dash || null)
            .attr("stroke-linejoin", "round");
    });

    /* scatter of differences */
    var points = [];
    dayTraces.forEach(function (t) {
        var i0 = zenith.indexOf(t.from);
        t.y.forEach(function (v, k) { points.push([zenith[i0 + k], v]); });
    });
    points = points.concat(strayPoints);

    svg.append("g").attr("id", "diffs")
        .selectAll("circle")
        .data(points)
        .enter()
        .append("circle")
        .attr("cx", function (d) { return x(d[0]); })
        .attr("cy", function (d) { return y(d[1]); })
        .attr("r", 2.1)
        .attr("fill", "#d65a5a")
        .attr("stroke", "#c00000")
        .attr("stroke-width", 1.6);

    /* plot border */
    svg.append("rect").attr("x", left).attr("y", top)
        .attr("width", right - left).attr("height", bottom - top)
        .attr("fill", "none").attr("stroke", "#6f6f6f").attr("stroke-width", 2.5);

    /* titles */
    svg.append("text").attr("x", 300).attr("y", 56).attr("font-size", 24)
        .attr("textLength", 490).attr("lengthAdjust", "spacingAndGlyphs")
        .text("Difference Between RCO Reference Cell and");
    svg.append("text").attr("x", 213).attr("y", 92).attr("font-size", 24)
        .attr("textLength", 380).attr("lengthAdjust", "spacingAndGlyphs")
        .text("Reference Pyranometer Tilted 40\u00b0");
    svg.append("text").attr("x", 627).attr("y", 92).attr("font-size", 24)
        .attr("textLength", 251).attr("lengthAdjust", "spacingAndGlyphs")
        .text("Golden, CO  June 2016");

    svg.append("text").attr("x", 609).attr("y", 650).attr("font-size", 22)
        .attr("text-anchor", "middle")
        .attr("textLength", 318).attr("lengthAdjust", "spacingAndGlyphs")
        .text("Solar Zenith Angle (Degrees)");
    svg.append("text").attr("transform", "translate(82,331) rotate(-90)")
        .attr("font-size", 22).attr("text-anchor", "middle")
        .attr("textLength", 362).attr("lengthAdjust", "spacingAndGlyphs")
        .text("Difference from Reference (%)");

    /* legend */
    var rowY = [703, 744];
    legendRows.forEach(function (row, r) {
        var g = svg.append("g");
        row.forEach(function (it) {
            var cy = rowY[r];
            if (it.kind === "dot") {
                g.append("circle").attr("cx", it.x).attr("cy", cy).attr("r", 1.3)
                    .attr("fill", "#f6d2d2").attr("stroke", "#c00000").attr("stroke-width", 0.9);
            } else {
                var spec = it.kind === "avg" ? lineSpecs[0] : (it.kind === "sd1" ? lineSpecs[1] : lineSpecs[3]);
                g.append("line").attr("x1", it.x).attr("x2", it.x + 34)
                    .attr("y1", cy).attr("y2", cy)
                    .attr("stroke", spec.color)
                    .attr("stroke-width", it.kind === "sd2" ? 4.5 : 3.5)
                    .attr("stroke-dasharray", it.kind === "avg" ? "9,3" : null);
            }
            g.append("text").attr("x", it.tx).attr("y", cy + 8)
                .attr("font-size", 22)
                .attr("textLength", it.w).attr("lengthAdjust", "spacingAndGlyphs")
                .text(it.name);
        });
    });

    /* caption */
    var capW = [1016, 1014, 1002, 998, 278];
    svg.append("g")
        .attr("font-family", "'Liberation Sans', Arial, sans-serif")
        .attr("font-weight", "bold")
        .attr("font-size", 17)
        .selectAll("text")
        .data(captionLines)
        .enter()
        .append("text")
        .attr("x", 545)
        .attr("y", function (d, i) { return 807 + i * 29.5; })
        .attr("text-anchor", "middle")
        .attr("textLength", function (d, i) { return capW[i]; })
        .attr("lengthAdjust", "spacingAndGlyphs")
        .text(function (d) { return d; });
}
</script>
</body>
</html>
